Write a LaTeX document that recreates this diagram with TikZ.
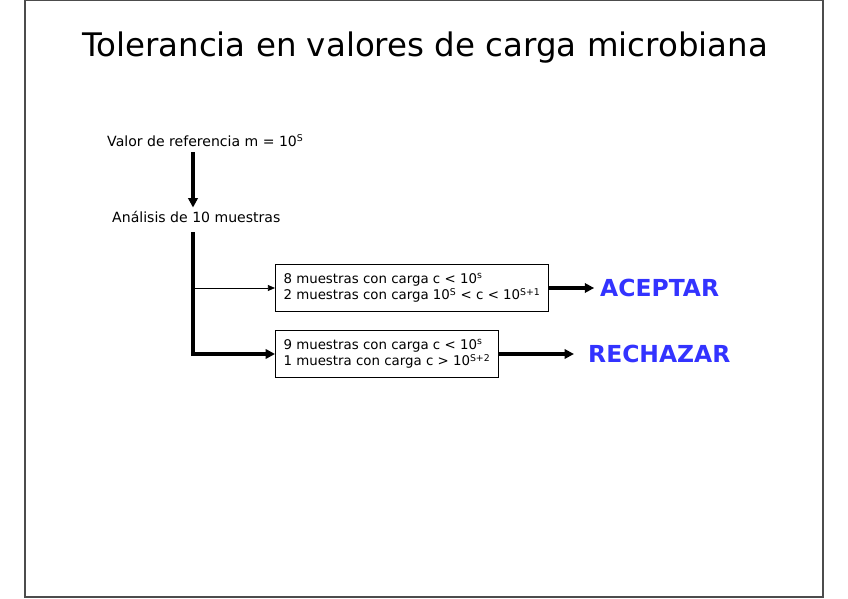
\documentclass[tikz,border=0pt]{standalone}
\usepackage{fontspec}
\setmainfont{DejaVu Sans}
\usetikzlibrary{arrows.meta}
\definecolor{azulres}{RGB}{51,51,255}
\tikzset{
  caja/.style={draw, line width=0.6pt, align=left, anchor=west, inner xsep=7pt, inner ysep=7.5pt,
    font=\fontsize{11.4}{14}\selectfont},
  texto/.style={font=\fontsize{12}{14}\selectfont, anchor=west, inner sep=0pt},
  flecha/.style={line width=2.6pt, -{Triangle[length=8pt,width=8pt]}},
  flechafina/.style={line width=0.6pt, -{Triangle[length=6pt,width=5pt]}},
  decision/.style={text=azulres, anchor=west, inner sep=0pt, font=\fontsize{20}{24}\selectfont\bfseries},
}
\begin{document}
\begin{tikzpicture}[x=0.03cm, y=-0.03cm]
    % Marco
    \useasboundingbox (0,0) rectangle (848,599);
    \draw[line width=1pt, black!70] (25,0) rectangle (823,597);
    % Titulo
    \node (titulo) at (425,48) {\fontsize{27.7}{32}\selectfont Tolerancia en valores de carga microbiana};

    % Valor de referencia y analisis
    \node[texto] (valor) at (107,141) {Valor de referencia m = 10\textsuperscript{S}};
    \node[texto] (analisis) at (112,217) {Análisis de 10 muestras};
    \coordinate (eje) at (193,0);
    \draw[flecha, shorten <=4pt, shorten >=3pt] (valor.south -| eje) -- (analisis.north -| eje);

    % Resultados posibles
    \node[caja] (caso1) at (275,288) {8 muestras con carga c < 10\textsuperscript{s}\\
      2 muestras con carga 10\textsuperscript{S} < c < 10\textsuperscript{S+1}};
    \node[caja] (caso2) at (275,354) {9 muestras con carga c < 10\textsuperscript{s}\\
      1 muestra con carga c > 10\textsuperscript{S+2}};
    \coordinate (codo) at (eje |- caso2.west);
    \draw[flecha, shorten <=8pt] (analisis.south -| eje) -- (codo) -- (caso2.west);
    \draw[flechafina] (eje |- caso1.west) -- (caso1.west);

    % Decision
    \node[decision] (aceptar) at (600,288) {ACEPTAR};
    \node[decision] (rechazar) at (588,354) {RECHAZAR};
    \draw[flecha, shorten >=5pt] (caso1.east) -- (aceptar.west);
    \draw[flecha, shorten >=12pt] (caso2.east) -- (rechazar.west);
\end{tikzpicture}
\end{document}
